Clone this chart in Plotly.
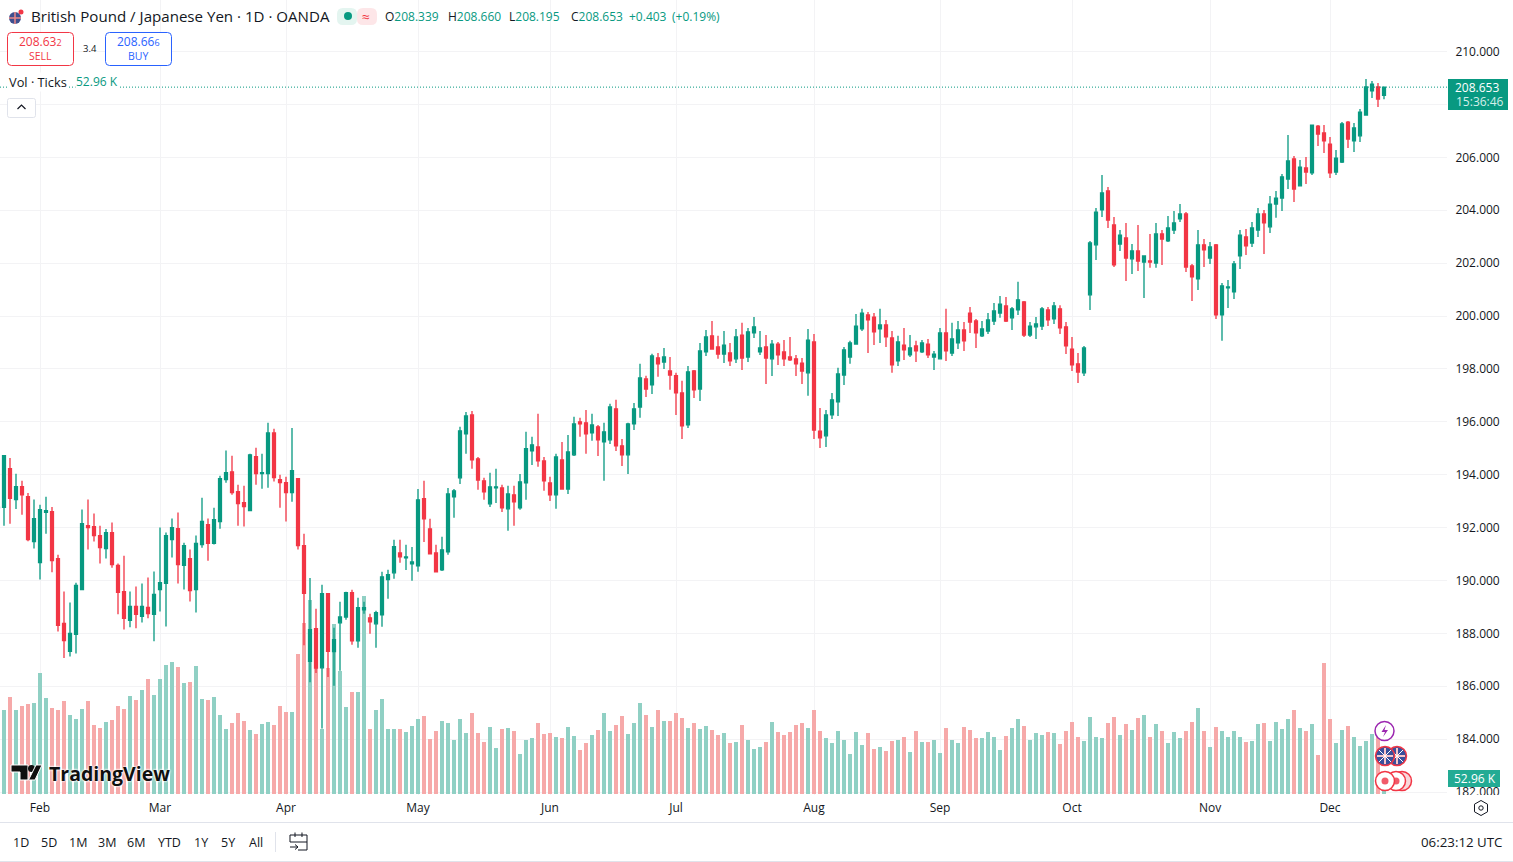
import plotly.graph_objects as go

W, H = 1513, 862
PAGE_H = 867
sessions = list(range(-1, 231))
opens = [192.75,
192.77,194.23,193.06,193.55,193.17,191.47,190.68,192.58,192.60,190.83,
188.38,187.32,187.96,189.66,192.07,192.04,191.70,191.21,191.81,190.57,
189.58,188.49,189.02,188.64,188.98,188.72,189.66,189.89,191.55,191.96,
190.57,190.83,189.66,191.36,192.11,191.40,192.23,193.81,194.11,193.36,
192.94,192.64,194.68,194.04,194.04,195.58,193.81,193.70,193.32,193.85,
191.32,186.94,188.18,186.70,189.50,187.31,188.40,188.62,189.54,187.72,
188.89,188.59,188.36,188.70,190.03,190.29,191.04,190.86,190.63,190.55,
193.09,191.95,191.04,190.40,191.08,193.16,193.88,195.54,196.26,194.60,
193.77,192.90,193.50,193.50,192.71,193.24,192.75,193.69,194.90,195.05,
194.52,193.69,193.24,194.56,193.46,194.75,196.00,195.96,195.58,195.81,
195.24,195.32,196.49,195.09,194.75,195.92,196.56,197.62,197.40,198.42,
198.26,197.92,197.74,197.09,195.88,197.92,197.24,198.64,199.25,198.83,
198.56,198.60,198.38,199.28,198.45,199.36,198.64,198.83,198.38,198.94,
198.64,198.45,198.38,198.22,197.85,199.02,195.65,195.47,196.26,196.75,
197.77,198.45,198.94,199.51,200.04,199.96,199.51,199.66,199.17,198.30,
198.90,198.53,198.87,198.64,198.94,198.45,198.38,199.36,198.60,198.98,
199.47,200.11,199.81,199.25,199.43,199.81,200.11,200.38,199.93,200.23,
200.53,199.28,199.59,199.62,200.23,199.89,200.27,199.59,198.75,198.19,
197.85,200.80,202.69,204.01,204.73,203.44,202.72,202.95,202.16,202.46,
202.04,202.08,202.00,203.10,202.84,203.25,203.67,203.86,201.89,201.40,
202.69,202.19,202.69,200.04,201.06,200.91,202.27,202.99,202.76,203.25,
203.86,203.37,204.23,204.46,205.18,205.94,204.92,205.60,205.41,207.18,
206.92,206.50,205.44,205.82,207.33,206.62,206.81,207.60,208.51,208.66,208.339]
closes = [192.77,
194.72,193.11,193.55,193.24,191.55,192.34,192.68,192.64,190.75,188.30,
187.73,188.00,189.81,192.15,192.00,191.70,191.24,191.81,190.60,189.55,
188.57,189.02,188.72,189.02,188.75,189.47,189.92,191.70,192.00,190.60,
191.32,189.62,191.40,192.23,191.40,192.30,193.85,194.08,193.32,192.91,
192.79,194.75,194.04,194.08,195.58,193.89,193.70,193.32,194.15,191.32,
189.51,188.14,186.69,189.50,187.32,187.76,188.62,189.54,187.72,188.97,
188.97,188.44,188.78,190.14,190.22,191.28,190.89,190.89,190.70,193.05,
192.33,191.01,190.33,191.16,193.27,193.39,195.66,196.22,194.56,193.80,
193.35,193.54,193.54,192.75,193.27,192.97,193.73,194.98,195.13,194.52,
193.77,193.24,194.67,193.46,194.86,195.92,195.92,195.54,195.88,195.32,
195.62,196.56,195.09,194.75,195.92,196.49,197.66,197.24,198.49,198.19,
198.45,197.77,197.09,195.85,197.89,197.21,198.68,199.21,198.75,198.56,
198.90,198.30,199.21,198.41,199.40,199.59,198.79,198.41,198.94,198.53,
198.38,198.34,198.19,197.92,199.09,195.69,195.39,196.26,196.83,197.81,
198.72,198.98,199.62,200.11,199.85,199.40,199.66,199.21,198.15,199.02,
198.72,198.79,198.68,198.98,198.53,198.56,199.36,198.68,199.13,199.47,
199.06,199.77,199.36,199.51,199.85,200.19,200.45,199.81,200.27,200.61,
199.28,199.62,199.70,200.27,199.85,200.38,199.55,198.87,198.15,197.88,
198.79,202.76,203.93,204.65,203.63,201.93,203.06,202.19,202.46,202.08,
202.27,202.04,203.10,202.91,203.33,203.52,203.86,201.85,201.48,202.69,
202.50,202.61,200.04,201.14,201.10,201.97,203.06,202.65,203.33,203.86,
203.52,204.23,204.46,205.26,205.86,204.80,205.63,205.44,207.22,206.88,
206.62,205.41,205.97,207.26,206.69,207.11,207.71,208.66,208.77,208.20,208.653]
highs = [192.9,
194.74,194.63,194.04,193.77,193.31,193.06,192.86,193.17,192.78,190.97,
189.58,189.17,189.91,192.68,193.06,192.53,192.07,191.95,192.19,190.64,
190.94,189.58,189.77,189.89,190.11,190.34,192.00,191.81,192.34,192.57,
191.43,191.17,191.70,193.13,192.34,192.75,193.96,194.91,194.72,193.62,
193.58,194.79,195.02,194.79,195.96,195.74,194.00,193.92,195.77,193.85,
191.77,190.09,188.93,189.84,189.50,188.21,189.20,189.57,189.65,189.35,
189.20,188.74,188.86,190.33,190.41,191.54,191.54,191.35,191.27,193.46,
193.77,192.33,191.35,191.65,193.50,193.46,195.81,196.37,196.41,194.67,
193.88,194.07,194.22,193.62,193.58,193.58,194.03,195.62,195.43,196.30,
194.67,193.92,194.79,195.24,195.50,196.19,196.15,196.45,196.30,195.88,
195.96,196.68,196.83,195.35,195.96,196.71,198.19,197.74,198.57,198.60,
198.79,198.45,197.85,197.55,198.11,197.96,198.98,199.47,199.81,199.25,
199.43,198.98,199.51,199.74,199.55,199.96,199.43,199.28,199.09,199.02,
199.09,199.21,198.53,198.41,199.51,199.32,196.52,196.45,197.09,198.04,
198.83,199.06,200.08,200.27,200.15,200.11,200.27,199.85,199.43,199.25,
199.55,199.28,199.06,199.09,199.13,198.68,199.55,200.27,199.74,199.81,
199.77,200.34,199.89,199.81,200.11,200.49,200.76,200.72,200.34,201.29,
200.57,199.77,199.96,200.34,200.34,200.53,200.41,199.77,199.21,198.60,
198.87,202.84,204.08,205.33,204.88,203.74,203.25,203.52,202.72,203.44,
202.27,203.10,203.52,203.25,203.78,203.97,204.23,203.93,201.97,203.25,
202.91,202.80,202.72,201.25,201.36,202.08,203.25,203.29,203.55,204.08,
204.01,204.54,204.73,205.37,206.84,206.05,205.90,206.01,207.22,207.22,
207.22,206.77,206.28,207.33,207.37,207.30,207.83,208.96,208.88,208.81,208.66]
lows = [192.7,
192.07,192.15,192.70,192.49,191.48,191.21,190.04,191.77,190.31,188.07,
187.07,187.13,187.24,189.66,191.17,191.47,190.64,190.83,190.48,188.72,
188.15,188.23,188.19,188.41,188.57,187.70,188.83,188.26,190.87,189.89,
189.66,189.21,188.79,191.24,190.75,191.36,191.96,193.70,193.24,192.07,
192.04,192.64,193.62,193.47,193.51,193.74,192.75,192.23,192.98,191.17,
187.55,186.15,186.50,184.40,186.35,186.02,186.59,188.52,187.57,187.46,
188.74,187.99,187.46,188.25,189.31,190.07,190.67,190.40,189.99,190.33,
191.46,191.01,190.33,190.36,190.97,192.37,193.65,194.79,194.22,193.43,
193.05,192.78,192.93,192.59,191.88,192.07,192.67,193.05,194.37,194.30,
193.39,193.01,192.71,193.46,193.27,194.71,195.43,194.79,195.28,194.71,
193.77,195.16,194.90,194.33,194.03,195.69,196.15,196.94,197.05,197.70,
198.00,197.21,196.26,195.35,195.77,196.90,196.79,198.49,198.72,198.38,
198.22,198.11,198.22,197.96,198.26,199.17,198.53,197.43,197.73,198.15,
198.11,198.30,197.73,197.43,196.98,195.35,195.01,195.05,196.11,196.22,
197.39,198.19,198.94,199.43,198.60,198.90,198.98,198.83,197.85,198.11,
198.34,198.45,198.26,198.60,198.41,197.96,198.38,198.30,198.49,198.75,
198.68,199.36,198.79,199.21,199.32,199.66,199.93,199.77,199.47,200.04,
199.21,199.21,199.13,199.47,199.62,199.70,199.32,198.56,197.92,197.47,
197.73,200.23,202.12,203.74,203.33,201.85,202.46,201.32,201.59,201.70,
200.68,201.82,201.82,201.93,202.80,203.10,203.55,201.66,200.57,200.98,
201.85,201.97,199.89,199.06,200.30,200.64,201.78,202.31,202.61,202.99,
202.34,203.14,203.71,203.97,204.80,204.31,204.92,204.99,205.33,206.43,
206.16,205.22,205.33,205.78,206.35,206.20,206.58,207.60,208.24,207.90,208.195]
volumes_k = [254,
278,321,278,291,298,301,400,318,285,278,
308,261,248,281,308,228,218,238,245,291,
281,324,311,344,381,328,381,427,437,420,
367,371,424,314,311,321,261,215,235,268,
242,212,199,232,238,228,291,271,271,463,
566,642,427,215,417,563,407,288,338,338,
655,215,278,314,215,215,215,205,225,247,
259,182,208,242,235,179,248,202,268,202,
172,222,152,215,218,208,132,179,185,235,
199,202,189,185,222,192,146,169,195,212,
268,208,228,258,199,235,301,261,222,278,
242,242,268,251,218,235,215,225,212,195,
202,169,172,228,179,149,156,172,238,205,
195,205,228,235,218,278,208,185,169,208,
179,132,205,162,202,149,156,142,175,179,
188,140,208,172,172,179,136,220,179,169,
221,212,185,185,205,189,146,192,218,248,
225,179,202,195,205,202,165,208,238,189,
175,255,189,185,235,255,195,232,212,251,
261,189,232,208,169,205,185,208,238,285,
208,156,221,208,189,208,189,172,175,232,
235,175,238,215,248,278,218,208,232,129,
433,248,169,212,225,189,159,175,199,199,53]
month_positions = [6, 26, 47, 69, 91, 112, 135, 156, 178, 201, 221]
month_labels = ["Feb", "Mar", "Apr", "May", "Jun", "Jul", "Aug", "Sep", "Oct", "Nov", "Dec"]
price_ticks = [182, 184, 186, 188, 190, 192, 194, 196, 198, 200, 202, 204, 206, 208, 210]
price_labels = ["182.000", "184.000", "186.000", "188.000", "190.000", "192.000", "194.000", "196.000",
                "198.000", "200.000", "202.000", "204.000", "206.000", "", "210.000"]
toolbar_labels = ["1D", "5D", "1M", "3M", "6M", "YTD", "1Y", "5Y", "All"]
toolbar_centres = [21, 49, 78, 107, 136, 169, 201, 228, 256]

UP, DOWN = "#089981", "#f23645"
INK = "#131722"
GRID = "#f3f3f5"
FONT = "Open Sans"
PANE_R, PANE_B = 1447, 795

fx = lambda x: x / W
fy = lambda y: 1 - y / H
def path(pts, close=True):
    d = " ".join(("M" if i == 0 else "L") + f"{fx(x):.5f},{fy(y):.5f}" for i, (x, y) in enumerate(pts))
    return d + (" Z" if close else "")

shapes, notes = [], []
def rect(x0, y0, x1, y1, fill="rgba(0,0,0,0)", line=None, lw=1):
    shapes.append(dict(type="rect", xref="paper", yref="paper", x0=fx(x0), x1=fx(x1), y0=fy(y0), y1=fy(y1),
                       fillcolor=fill, line=dict(color=line or "rgba(0,0,0,0)", width=lw if line else 0), layer="above"))
def rrect(x0, y0, x1, y1, r, fill="rgba(0,0,0,0)", line=None, lw=1):
    d = (f"M{fx(x0+r):.5f},{fy(y0):.5f} L{fx(x1-r):.5f},{fy(y0):.5f} Q{fx(x1):.5f},{fy(y0):.5f} {fx(x1):.5f},{fy(y0+r):.5f} "
         f"L{fx(x1):.5f},{fy(y1-r):.5f} Q{fx(x1):.5f},{fy(y1):.5f} {fx(x1-r):.5f},{fy(y1):.5f} "
         f"L{fx(x0+r):.5f},{fy(y1):.5f} Q{fx(x0):.5f},{fy(y1):.5f} {fx(x0):.5f},{fy(y1-r):.5f} "
         f"L{fx(x0):.5f},{fy(y0+r):.5f} Q{fx(x0):.5f},{fy(y0):.5f} {fx(x0+r):.5f},{fy(y0):.5f} Z")
    shapes.append(dict(type="path", xref="paper", yref="paper", path=d, fillcolor=fill,
                       line=dict(color=line or "rgba(0,0,0,0)", width=lw if line else 0), layer="above"))
def circ(cx, cy, r, fill="white", line=None, lw=1.5):
    shapes.append(dict(type="circle", xref="paper", yref="paper", x0=fx(cx-r), x1=fx(cx+r), y0=fy(cy-r), y1=fy(cy+r),
                       fillcolor=fill, line=dict(color=line or "rgba(0,0,0,0)", width=lw if line else 0), layer="above"))
def poly(pts, fill="rgba(0,0,0,0)", line=None, lw=1, close=True):
    shapes.append(dict(type="path", xref="paper", yref="paper", path=path(pts, close), fillcolor=fill if close else "rgba(0,0,0,0)",
                       line=dict(color=line or "rgba(0,0,0,0)", width=lw if line else 0), layer="above"))
def text(x, y, s, size=12, color=INK, anchor="left", bg=None, family=FONT, bold=False, shadow=None):
    f = dict(family=family, size=size, color=color)
    if shadow:
        f["shadow"] = shadow
    notes.append(dict(xref="paper", yref="paper", x=fx(x), y=fy(y), text=f"<b>{s}</b>" if bold else s, showarrow=False,
                      xanchor=anchor, yanchor="middle", borderpad=0, bgcolor=bg, font=f))

up_mask = [c >= o for o, c in zip(opens, closes)]
vol_colors = ["#90d0c4" if u else "#f6a9a9" for u in up_mask]

fig = go.Figure()
fig.add_trace(go.Bar(x=sessions, y=volumes_k, width=0.82, marker=dict(color=vol_colors, line=dict(width=0)),
                     yaxis="y", xaxis="x", showlegend=False, hoverinfo="skip"))
fig.add_trace(go.Candlestick(x=sessions, open=opens, high=highs, low=lows, close=closes,
                             increasing=dict(line=dict(color=UP, width=1.3), fillcolor=UP),
                             decreasing=dict(line=dict(color=DOWN, width=1.3), fillcolor=DOWN),
                             whiskerwidth=0, yaxis="y2", xaxis="x", showlegend=False, hoverinfo="skip"))

# dotted last-price line
last = closes[-1]
shapes.append(dict(type="line", xref="paper", yref="y2", x0=0, x1=fx(PANE_R), y0=last, y1=last,
                   line=dict(color=UP, width=1, dash="1px,2px"), layer="above"))

# header
circ(15, 18, 6, fill="#3f4f8f")
poly([(9, 18), (21, 18)], line="#e88", lw=1.5, close=False)
poly([(15, 12), (15, 24)], line="#e88", lw=1.5, close=False)
circ(21, 12, 2.5, fill=DOWN)
text(30, 15.8, "British Pound / Japanese Yen · 1D · OANDA", 15.1)
rrect(337, 8, 357, 25, 6, fill="#e4f5f0")
rrect(357, 8, 377, 25, 6, fill="#fde6e8")
circ(348, 16, 4, fill=UP)
text(366, 16, "≈", 14, DOWN, "center")
G = f'<span style="color:{UP}">'
text(384, 16.5, f"O{G}208.339</span>", 12)
text(447, 16.5, f"H{G}208.660</span>", 12)
text(508, 16.5, f"L{G}208.195</span>", 12)
text(570, 16.5, f"C{G}208.653</span>", 12)
text(628, 16.5, "+0.403", 12, UP)
text(671, 16.5, "(+0.19%)", 12, UP)

# trade buttons
rrect(7.5, 32.5, 73.5, 65.5, 4, fill="white", line=DOWN)
text(40, 41.5, '208.63<span style="font-size:9px">2</span>', 12, DOWN, "center")
text(40, 56, "SELL", 10.5, DOWN, "center")
rrect(105.5, 32.5, 171.5, 65.5, 4, fill="white", line="#2962ff")
text(138, 41.5, '208.66<span style="font-size:9px">6</span>', 12, "#2962ff", "center")
text(138, 56, "BUY", 10.5, "#2962ff", "center")
text(90, 48, "3.4", 9.5, INK, "center")
text(8, 81.5, "Vol · Ticks", 12.8, bg="white")
text(75, 82, "52.96 K", 12, UP, bg="white")
rrect(7.5, 98.5, 35.5, 117.5, 2, fill="white", line="#e0e3eb")
poly([(17.5, 109), (21.5, 105), (25.5, 109)], line=INK, lw=1.2, close=False)

# price tags
rect(PANE_R+1, PANE_B, W, H, fill="white")
rect(PANE_R+1, 79, 1508, 110, fill=UP)
text(1477, 87.5, "208.653", 12, "white", "center")
text(1480, 102, "15:36:46", 12, "#d4efe9", "center")
rect(PANE_R+1, 770, 1500, 787, fill="#22ab94")
text(1475, 778.5, "52.96 K", 12, "white", "center")

# watermark
wm = "#0f0f0f"
poly([(11, 765), (28, 765), (28, 780), (20, 780), (20, 772), (11, 772)], fill=wm, line="white", lw=1)
circ(31.5, 768.5, 3.5, fill=wm)
poly([(36, 765), (42, 765), (35, 780), (28.5, 780)], fill=wm, line="white", lw=1)
text(48, 773, "TradingView", 19.5, wm, family="Open Sans", bold=True,
     shadow="0 0 2px white, 0 0 2px white, 0 0 3px white")

# event markers
circ(1384.5, 731, 9.5, line="#9c27b0")
poly([(1386, 725), (1381.5, 732), (1385, 732), (1383, 737), (1388, 730), (1384.5, 730)], fill="#9c27b0")
for cx in (1397, 1385):
    circ(cx, 756, 9.5, fill="#39509c", line=DOWN)
    poly([(cx-8, 756), (cx+8, 756)], line="#f7c4c8", lw=2, close=False)
    poly([(cx, 748), (cx, 764)], line="#f7c4c8", lw=2, close=False)
    poly([(cx-6, 750), (cx+6, 762)], line="white", lw=1, close=False)
    poly([(cx-6, 762), (cx+6, 750)], line="white", lw=1, close=False)
circ(1402, 781, 9.5, fill="#f8d7da", line=DOWN)
circ(1396, 781, 9.5, line=DOWN)
circ(1396, 781, 3.5, fill="#f15b6a")
circ(1385, 781, 9.5, line=DOWN)
circ(1385, 781, 3.5, fill="#f15b6a")

# gear
poly([(1481, 800.5), (1487.5, 804.2), (1487.5, 811.8), (1481, 815.5), (1474.5, 811.8), (1474.5, 804.2)], line=INK, lw=1)
circ(1481, 808, 2.2, line=INK, lw=1)

# toolbar
poly([(0, 822.5), (W, 822.5)], line="#e0e3eb", close=False)
poly([(0, 861.5), (W, 861.5)], line="#e0e3eb", close=False)
for lab, cx in zip(toolbar_labels, toolbar_centres):
    text(cx, 842, lab, 12.5, INK, "center")
poly([(275.5, 832), (275.5, 852)], line="#e0e3eb", close=False)
poly([(307, 842), (307, 835), (290, 835), (290, 842)], line=INK, lw=1, close=False)
poly([(290, 842), (307, 842)], line=INK, lw=1, close=False)
poly([(307, 842), (307, 850), (298, 850)], line=INK, lw=1, close=False)
poly([(295, 832.5), (295, 837)], line=INK, lw=1, close=False)
poly([(302, 832.5), (302, 837)], line=INK, lw=1, close=False)
poly([(290, 847), (298, 847), (295, 844.5)], line=INK, lw=1, close=False)
poly([(298, 847), (295, 849.5)], line=INK, lw=1, close=False)
text(1503, 842, "06:23:12 UTC", 13.3, INK, "right")

axis_font = dict(family=FONT, size=12, color=INK)
fig.update_layout(
    width=W, height=PAGE_H, margin=dict(l=0, r=0, t=0, b=0), autosize=False,
    paper_bgcolor="white", plot_bgcolor="white", font=dict(family=FONT, color=INK),
    hovermode=False, showlegend=False, bargap=0, boxgap=0.3,
    xaxis=dict(domain=[0, PANE_R / W], range=[-2 / 3, 240.5], tickmode="array", tickvals=month_positions,
               ticktext=month_labels, showgrid=True, gridcolor=GRID, gridwidth=1, zeroline=False, showline=False,
               ticks="outside", ticklen=2, tickcolor="rgba(0,0,0,0)", tickfont=axis_font, rangeslider=dict(visible=False),
               anchor="y", fixedrange=True),
    yaxis=dict(domain=[1 - PANE_B / H, 1], range=[-3.3, 2628], visible=False, showgrid=False, fixedrange=True),
    yaxis2=dict(domain=[1 - PANE_B / H, 1], overlaying="y", side="right", anchor="x", range=[181.89, 211.947],
                tickmode="array", tickvals=price_ticks, ticktext=price_labels,
                showgrid=True, gridcolor=GRID, gridwidth=1, zeroline=False, showline=False,
                ticks="outside", ticklen=5, tickcolor="rgba(0,0,0,0)", tickfont=axis_font, fixedrange=True),
    shapes=shapes, annotations=notes,
)
fig.write_html("out.html", post_script="document.body.style.margin='0';document.body.style.overflow='hidden';",
               config=dict(displayModeBar=False))
